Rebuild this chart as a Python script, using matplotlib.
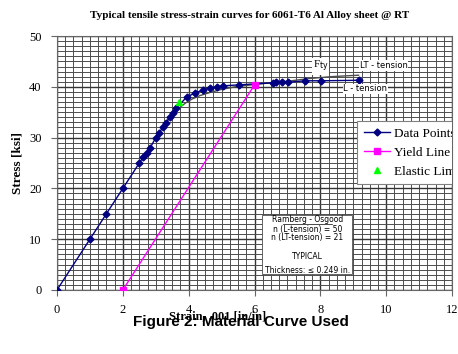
import numpy as np
import matplotlib.pyplot as plt
from matplotlib.ticker import MultipleLocator
from matplotlib.patches import Rectangle

# data (strain in 0.001 in/in, stress in ksi)
data_strain = [0, 1.0, 1.5, 2.0, 2.5, 2.62, 2.73, 2.83, 3.0, 3.11, 3.21, 3.31, 3.43,
               3.52, 3.62, 3.94, 4.2, 4.43, 4.65, 4.85, 5.04, 5.53, 6.55, 6.66,
               6.83, 7.01, 7.54, 8.02, 9.16]
data_stress = [0, 10, 15, 20, 25, 26.2, 27, 28, 30, 31, 32, 32.9, 34,
               34.8, 35.8, 38.0, 38.8, 39.4, 39.8, 40.0, 40.2, 40.4, 40.8, 40.9,
               40.9, 40.9, 41.2, 41.2, 41.3]

yield_strain = [2.0, 6.0]
yield_stress = [0, 40.4]

elastic_strain = [3.72]
elastic_stress = [37.1]

# gray Ramberg-Osgood curve (LT-tension), traced
ro_strain = [3.3, 3.5, 3.7, 3.9, 4.1, 4.35, 4.65, 5.0, 5.4, 5.9, 6.5, 7.0, 7.6, 8.3, 9.16]
ro_stress = [33.0, 34.6, 35.8, 36.8, 37.6, 38.3, 38.9, 39.5, 40.0, 40.4, 40.8, 41.1, 41.6, 42.0, 42.3]

note_lines = ['Ramberg - Osgood', 'n (L-tension) = 50', 'n (LT-tension) = 21',
              'TYPICAL', 'Thickness: \u2264 0.249 in.']

serif = "Liberation Serif"

fig = plt.figure(figsize=(4.58, 3.54), dpi=100)
ax = fig.add_axes([0.1245, 0.181, 0.8625, 0.717])

ax.set_xlim(0, 12)
ax.set_ylim(0, 50)
ax.xaxis.set_major_locator(MultipleLocator(2))
ax.yaxis.set_major_locator(MultipleLocator(10))
ax.xaxis.set_minor_locator(MultipleLocator(0.25))
ax.yaxis.set_minor_locator(MultipleLocator(1))
ax.grid(which='minor', color='0.3', lw=0.7)
ax.grid(which='major', color='0.2', lw=1.0)
ax.set_axisbelow(True)
ax.tick_params(which='major', direction='out', length=4, color='0.4', labelsize=9)
ax.tick_params(axis='x', pad=6)
ax.tick_params(axis='y', pad=7)
ax.tick_params(which='minor', length=0)
for lab in ax.get_xticklabels() + ax.get_yticklabels():
    lab.set_fontfamily(serif)
for s in ax.spines.values():
    s.set_color('0.4')

ax.plot(ro_strain, ro_stress, color='0.3', lw=1.0, zorder=2)
ax.plot(data_strain, data_stress, color='#000080', lw=1.0, marker='D', ms=3.5,
        label='Data Points', zorder=3)
ax.plot(yield_strain, yield_stress, color='#FF00FF', lw=1.0, marker='s', ms=5,
        label='Yield Line', zorder=3)
ax.plot(elastic_strain, elastic_stress, ls='none', color='#00FF00', marker='^', ms=5,
        label='Elastic Limi', zorder=4)

leg = ax.legend(loc='upper left', bbox_to_anchor=(0.76, 0.665), borderaxespad=0,
                frameon=True, fancybox=False, framealpha=1, edgecolor='0.5',
                prop={'family': serif, 'size': 9.5}, handlelength=2.0, borderpad=0.5,
                labelspacing=0.5, handletextpad=0.3)
leg.get_frame().set_linewidth(0.8)
# the original legend is cut off at the right edge of the plot area
for art in [leg.legendPatch] + leg.get_texts():
    art.set_clip_box(ax.bbox)
    art.set_clip_on(True)

# curve labels
box = dict(facecolor='white', edgecolor='none', pad=0.5)
ax.text(8.0, 44.0, r'F$_{\rm ty}$', fontsize=8, family=serif, ha='center', va='center', bbox=box)
ax.text(9.2, 44.2, 'LT - tension', fontsize=6, ha='left', va='center', bbox=box)
ax.text(8.7, 39.6, 'L - tension', fontsize=6, ha='left', va='center', bbox=box)

# Ramberg-Osgood note box
ax.add_patch(Rectangle((6.23, 3.15), 2.73, 11.6, facecolor='white', edgecolor='0.3',
                       lw=0.6, zorder=5))
for txt, yy in zip(note_lines, [13.8, 12.0, 10.25, 6.5, 3.9]):
    ax.text(7.6, yy, txt, fontsize=5.5, ha='center', va='center', zorder=6)
ax.plot([6.85, 8.35], [13.0, 13.0], color='black', lw=0.5, zorder=6)

ax.set_ylabel('Stress [ksi]', family=serif, fontsize=9.5, fontweight='bold', labelpad=4)
fig.text(0.476, 0.108, 'Strain, .001 [in/in]', family=serif, fontsize=9, fontweight='bold',
         ha='center', va='center')
fig.text(0.525, 0.09, 'Figure 2: Material Curve Used', family='Liberation Sans', fontsize=11,
         fontweight='bold', ha='center', va='center')
fig.text(0.545, 0.955, 'Typical tensile stress-strain curves for 6061-T6 Al Alloy sheet @ RT',
         family=serif, fontsize=8, fontweight='bold', ha='center', va='center')

fig.savefig('out.png', dpi=100)
